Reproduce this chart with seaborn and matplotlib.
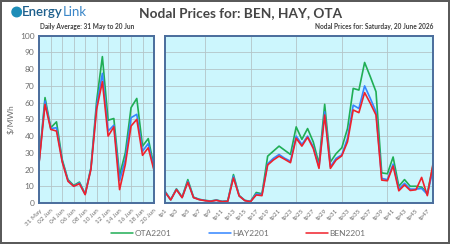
import matplotlib
matplotlib.use("Agg")
import matplotlib.pyplot as plt
from matplotlib.patches import Ellipse
from matplotlib.lines import Line2D
import seaborn as sns
import numpy as np
import pandas as pd

# daily averages, 31 May to 20 Jun
days = ['31 May', '01 Jun', '02 Jun', '03 Jun', '04 Jun', '05 Jun', '06 Jun',
        '07 Jun', '08 Jun', '09 Jun', '10 Jun', '11 Jun', '12 Jun', '13 Jun',
        '14 Jun', '15 Jun', '16 Jun', '17 Jun', '18 Jun', '19 Jun', '20 Jun']
daily_ota = [26, 63, 45, 48.5, 26, 14, 10.5, 12.5, 5.5, 21, 61, 87.5, 49.5, 50.5,
             16.5, 30, 57, 62.5, 34, 38.5, 22]
daily_hay = [25.5, 61, 44.5, 45, 25, 13.5, 10, 12, 5.2, 20.5, 58, 77.5, 43, 46.5,
             13.5, 26, 51, 53, 31, 35.5, 20.5]
daily_ben = [25, 59, 44, 43, 24.5, 13, 10, 11.5, 5, 20, 56, 72.5, 40, 45.5,
             8, 23, 46, 50, 28.5, 33, 19.5]

# trading periods for 20 June
periods = ['tp%d' % i for i in range(1, 49)]
tp_ota = [7, 2, 8.5, 3.5, 14, 3.5, 2.2, 1.6, 1.2, 1.8, 1, 1.2, 17, 4.5, 1.6, 1,
          6.3, 5.5, 28, 31, 34, 31.5, 29, 45.5, 38, 44.5, 36.5, 23.5, 59, 24.5,
          29.5, 33, 44.5, 68.5, 67.5, 84, 75.5, 66.5, 18, 17.5, 27.5, 10, 14, 10,
          10, 9.5, 6, 22.5]
tp_hay = [6.8, 1.9, 8.2, 3.3, 13, 3.3, 2.1, 1.5, 1.1, 1.7, 0.9, 1.1, 16, 4.3,
          1.5, 0.9, 5.5, 5, 23.5, 26.7, 29, 26.7, 25, 40, 35, 40, 33.5, 21.5,
          54.5, 21.7, 26.7, 28.8, 38.7, 58.5, 56.5, 70, 62.5, 54.5, 14.7, 14,
          23.3, 8.3, 11.8, 8.3, 8.3, 8.7, 5.2, 20]
tp_ben = [6.5, 1.8, 8, 3.2, 12.4, 3.2, 2, 1.4, 1, 1.6, 0.8, 1, 15, 4.2, 1.4,
          0.8, 4.8, 4.4, 22.7, 25.7, 28, 26.1, 24.1, 38.7, 34, 39.3, 32.6, 20.7,
          52.6, 20.7, 25.7, 28.2, 36.6, 55.6, 54, 66, 59.6, 52.6, 13.7, 13.3,
          22.1, 7.3, 10.8, 7.5, 7.9, 15.3, 4.4, 23.5]

nodes = ['OTA2201', 'HAY2201', 'BEN2201']
colors = {'OTA2201': '#1fae55', 'HAY2201': '#3385ff', 'BEN2201': '#f0212b'}

sns.set_style("white")
plt.rcParams['font.family'] = ['Lato', 'DejaVu Sans']

grey = '#6e6e6e'
frame = '#4a6d9c'
bg = '#ccf6fd'
gridc = '#b4c4c8'


def long_form(labels, series):
    rows = []
    for node, vals in zip(nodes, series):
        for i, v in enumerate(vals):
            rows.append({'x': i, 'label': labels[i], 'node': node, 'price': v})
    return pd.DataFrame(rows)


df_daily = long_form(days, [daily_ota, daily_hay, daily_ben])
df_tp = long_form(periods, [tp_ota, tp_hay, tp_ben])

fig = plt.figure(figsize=(4.5, 2.44), dpi=100, linewidth=1.5, edgecolor='#5a5a5a')
ax1 = fig.add_axes([0.0873, 0.168, 0.2549, 0.6857])
ax2 = fig.add_axes([0.3667, 0.168, 0.5956, 0.6857])

for ax, df in ((ax1, df_daily), (ax2, df_tp)):
    sns.lineplot(data=df, x='x', y='price', hue='node', hue_order=nodes,
                 palette=colors, linewidth=1.2, ax=ax, legend=False)
    ax.set_facecolor(bg)
    ax.set_ylim(0, 100)
    ax.set_yticks(np.arange(0, 101, 10))
    ax.grid(True, which='major', axis='y', color=gridc, linewidth=0.6)
    ax.set_xlabel('')
    ax.set_ylabel('')
    for s in ax.spines.values():
        s.set_color(frame)
        s.set_linewidth(1.4)
    ax.tick_params(axis='both', colors=grey, labelsize=5, length=2, width=0.5,
                   pad=1.5)

# left panel axis
ax1.set_xlim(0, len(days) - 1)
ax1.set_xticks(range(0, len(days), 2))
ax1.set_xticklabels(days[::2], rotation=45, ha='right', rotation_mode='anchor')
ax1.grid(True, which='major', axis='x', color=gridc, linewidth=0.6)
ax1.tick_params(axis='y', labelsize=6)
ax1.set_ylabel('$/MWh', color=grey, fontsize=6, labelpad=4)

# right panel axis
ax2.set_xlim(0, len(periods) - 1)
ax2.set_xticks(range(0, len(periods), 2))
ax2.set_xticklabels(periods[::2], rotation=45, ha='right', rotation_mode='anchor')
ax2.set_xticks(range(7, len(periods), 8), minor=True)
ax2.tick_params(axis='x', which='minor', length=0)
ax2.grid(True, which='minor', axis='x', color=gridc, linewidth=0.6)
ax2.set_yticklabels([])
ax2.tick_params(axis='y', length=0)

for lab in ax1.get_xticklabels() + ax2.get_xticklabels():
    lab.set_fontsize(4.6)

# titles
fig.text(0.535, 0.945, 'Nodal Prices for: BEN, HAY, OTA', ha='center', va='center',
         fontsize=9.8, fontweight='bold', color='#454545')
fig.text(0.088, 0.878, 'Daily Average: 31 May to 20 Jun', ha='left', va='bottom',
         fontsize=4.7, fontweight='bold', color='#404040')
fig.text(0.962, 0.878, 'Nodal Prices for: Saturday, 20 June 2026', ha='right',
         va='bottom', fontsize=4.7, fontweight='bold', color='#404040')

# logo
fig.add_artist(Ellipse((16.7 / 450, 1 - 12 / 244), 9.5 / 450, 9.5 / 244,
                       transform=fig.transFigure, color='#1d8db8'))
fig.text(22 / 450, 1 - 12 / 244, 'Energy', ha='left', va='center', fontsize=9.5,
         fontweight='semibold', color='#1d5f8c')
fig.text(63 / 450, 1 - 12 / 244, 'Link', ha='left', va='center', fontsize=9.5,
         color='#3a86c8')

# legend
handles = [Line2D([0], [0], color=colors[n], linewidth=1.1) for n in nodes]
leg = fig.legend(handles, nodes, loc='center', bbox_to_anchor=(0.53, 0.045),
                 ncol=3, frameon=False, fontsize=6, handlelength=2.6,
                 handletextpad=0.2, columnspacing=4.5)
for t in leg.get_texts():
    t.set_color(grey)

fig.savefig('out.png', dpi=100)
